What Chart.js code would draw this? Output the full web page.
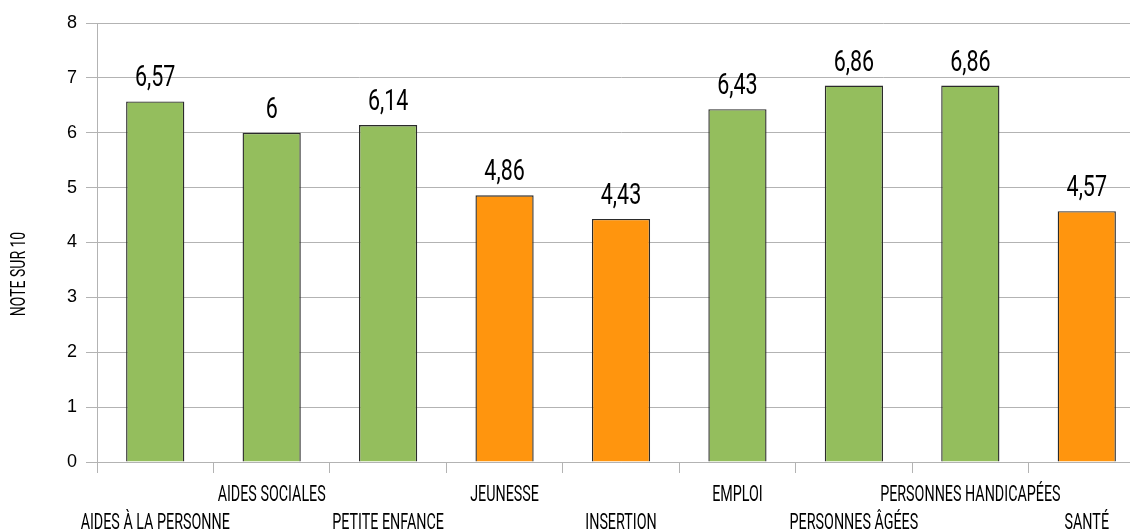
<!DOCTYPE html>
<html lang="fr">
<head>
<meta charset="utf-8">
<title>Notes par domaine</title>
<script src="https://cdn.jsdelivr.net/npm/chart.js@4/dist/chart.umd.min.js"></script>
<style>
    html, body { margin: 0; padding: 0; background: #fff; overflow: hidden; }
    #wrap { width: 1145px; height: 532px; position: relative; }
</style>
</head>
<body>
<div id="wrap"><canvas id="chart"></canvas></div>
<script>
const domaines = [
    'AIDES À LA PERSONNE', 'AIDES SOCIALES', 'PETITE ENFANCE', 'JEUNESSE',
    'INSERTION', 'EMPLOI', 'PERSONNES ÂGÉES', 'PERSONNES HANDICAPÉES', 'SANTÉ'
];
const notes = [6.57, 6, 6.14, 4.86, 4.43, 6.43, 6.86, 6.86, 4.57];
const graduations = [0, 1, 2, 3, 4, 5, 6, 7, 8];
const titreAxe = 'NOTE SUR 10';
const seuil = 5;

const VERT = '#94be5d';
const ORANGE = '#ff950e';
const POLICE = 'Roboto, sans-serif';

// pas de police étroite installée : on resserre le texte à la main
function texteSerre(ctx, txt, x, y, taille, serrage) {
    ctx.save();
    ctx.translate(x, y);
    ctx.scale(serrage, 1);
    ctx.font = taille + 'px ' + POLICE;
    ctx.fillText(txt, 0, 0);
    ctx.restore();
}

const etiquettes = {
    id: 'etiquettes',
    afterDatasetsDraw(chart) {
        const ctx = chart.ctx;
        const meta = chart.getDatasetMeta(0);
        ctx.save();
        ctx.fillStyle = '#000';
        ctx.textAlign = 'center';
        ctx.textBaseline = 'alphabetic';
        meta.data.forEach((bar, i) => {
            const txt = String(notes[i]).replace('.', ',');
            texteSerre(ctx, txt, bar.x, bar.y - 15, 29, 0.74);
        });
        ctx.restore();
    },
    afterDraw(chart) {
        const ctx = chart.ctx;
        const x = chart.scales.x;
        ctx.save();
        ctx.fillStyle = '#000';
        ctx.textAlign = 'center';
        ctx.textBaseline = 'middle';
        // libellés en quinconce : pairs en bas, impairs en haut
        domaines.forEach((d, i) => {
            const y = x.top + (i % 2 === 0 ? 61 : 33);
            texteSerre(ctx, d, x.getPixelForValue(i), y, 22, 0.65);
        });
        // titre de l'axe vertical
        ctx.translate(20, 274);
        ctx.rotate(-Math.PI / 2);
        texteSerre(ctx, titreAxe, 0, 0, 20, 0.7);
        ctx.restore();
    }
};

new Chart(document.getElementById('chart'), {
    type: 'bar',
    data: {
        labels: domaines,
        datasets: [{
            data: notes,
            backgroundColor: notes.map(v => v < seuil ? ORANGE : VERT),
            borderColor: '#2b2b2b',
            borderWidth: 1.4,
            barPercentage: 0.5,
            categoryPercentage: 1
        }]
    },
    options: {
        responsive: true,
        maintainAspectRatio: false,
        animation: false,
        layout: { padding: { top: 23, left: 0, right: 0, bottom: 0 } },
        plugins: {
            legend: { display: false },
            tooltip: { enabled: false }
        },
        scales: {
            x: {
                grid: {
                    display: true,
                    drawOnChartArea: false,
                    drawTicks: true,
                    tickLength: 11,
                    color: '#b3b3b3'
                },
                border: { color: '#b3b3b3' },
                ticks: { display: false, autoSkip: false },
                afterFit(scale) { scale.height = 70; }
            },
            y: {
                min: 0,
                max: 8,
                afterBuildTicks(scale) {
                    scale.ticks = graduations.map(v => ({ value: v }));
                },
                grid: { color: '#b3b3b3', tickLength: 11 },
                border: { color: '#b3b3b3' },
                ticks: {
                    padding: 9,
                    color: '#000',
                    font: { family: "'Liberation Sans', Arial, sans-serif", size: 18 }
                },
                afterFit(scale) { scale.width = 97; }
            }
        }
    },
    plugins: [etiquettes]
});
</script>
</body>
</html>
